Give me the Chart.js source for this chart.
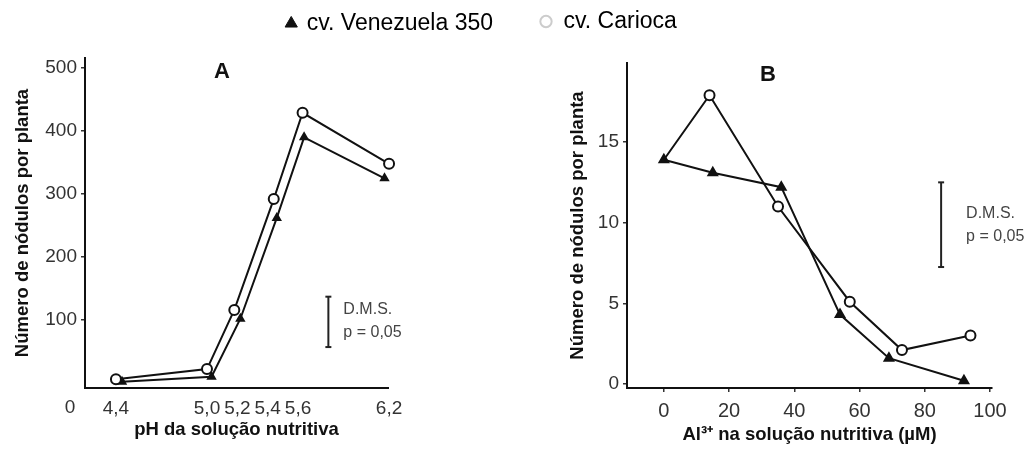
<!DOCTYPE html>
<html lang="pt">
<head>
<meta charset="utf-8">
<title>Nódulos por planta</title>
<script src="https://cdn.jsdelivr.net/npm/chart.js"></script>
<style>
  body { margin: 0; background: #fff; }
  #caixaA { position: absolute; left: 0; top: 0; width: 503px; height: 449px; }
  #caixaB { position: absolute; left: 530px; top: 0; width: 503px; height: 449px; }
</style>
</head>
<body>
<div id="caixaA"><canvas id="graficoA"></canvas></div>
<div id="caixaB"><canvas id="graficoB"></canvas></div>
<script>
// Painel A - pH da solução
var phCarioca = [4.40, 5.00, 5.18, 5.44, 5.63, 6.20];
var nodulosCariocaA = [6, 22, 116, 292, 429, 348];
var phVenezuela = [4.44, 5.03, 5.22, 5.46, 5.64, 6.17];
var nodulosVenezuelaA = [2, 10, 102, 262, 390, 325];
var phTicks = [4.4, 5.0, 5.2, 5.4, 5.6, 6.2];
var phTickLabels = ['4,4', '5,0', '5,2', '5,4', '5,6', '6,2'];
var nodTicksA = [100, 200, 300, 400, 500];
var dmsA = [5.8, 57, 137]; // x, base, topo

// Painel B - Al3+
var alCarioca = [0, 14, 35, 57, 73, 94];
var nodulosCariocaB = [13.9, 17.9, 11.0, 5.1, 2.1, 3.0];
var alVenezuela = [0, 15, 36, 54, 69, 92];
var nodulosVenezuelaB = [13.9, 13.1, 12.2, 4.3, 1.6, 0.2];
var alTicks = [0, 20, 40, 60, 80, 100];
var nodTicksB = [0, 5, 10, 15];
var dmsB = [85, 7.25, 12.5];

var fonte = 'Liberation Sans, Arial, sans-serif';
var preto = '#111';
var fonteTitulo = { family: fonte, size: 18.5, weight: 'bold' };

function pontos(xs, ys) {
  var lista = [];
  for (var i = 0; i < xs.length; i++) {
    lista.push({ x: xs[i], y: ys[i] });
  }
  return lista;
}

// textos soltos (letra do painel, D.M.S., "0")
var textos = {
  id: 'textos',
  afterDatasetsDraw: function (chart, args, opts) {
    var ctx = chart.ctx;
    ctx.save();
    (opts.itens || []).forEach(function (t) {
      var p = t.pos(chart);
      ctx.font = t.font;
      ctx.fillStyle = t.color || '#333';
      ctx.textAlign = t.align || 'left';
      ctx.textBaseline = 'middle';
      ctx.fillText(t.text, p[0], p[1]);
    });
    ctx.restore();
  }
};

function dmsPos(dms, dx, dy) {
  return function (chart) {
    return [chart.scales.x.getPixelForValue(dms[0]) + dx, chart.scales.y.getPixelForValue(dms[2]) + dy];
  };
}

function linha(dados, estilo, raio, fundo) {
  return {
    data: dados,
    borderColor: preto,
    borderWidth: 2,
    tension: 0,
    clip: false,
    pointStyle: estilo,
    pointRadius: raio,
    pointBorderWidth: 2,
    pointBorderColor: preto,
    pointBackgroundColor: fundo
  };
}

function barraDms(dms) {
  return {
    label: 'DMS',
    data: [{ x: dms[0], y: dms[1] }, { x: dms[0], y: dms[2] }],
    borderColor: '#222',
    borderWidth: 2,
    pointStyle: 'line',
    pointRadius: 3,
    pointBorderWidth: 2,
    pointBorderColor: '#222'
  };
}

function eixoY(ticks, largura, padTitulo) {
  return {
    type: 'linear',
    afterBuildTicks: function (s) { s.ticks = ticks.map(function (v) { return { value: v }; }); },
    afterFit: function (s) { s.width = largura; },
    border: { color: preto, width: 2 },
    grid: { drawOnChartArea: false, drawTicks: true, tickLength: 4, color: '#333', lineWidth: 1.5 },
    ticks: { color: '#333', padding: 4, font: { family: fonte, size: 19 } },
    title: {
      display: true,
      text: 'Número de nódulos por planta',
      color: preto,
      padding: { top: padTitulo, bottom: 0 },
      font: fonteTitulo
    }
  };
}

// eixo vazio, só para reservar espaço
function espaco(posicao, tamanho) {
  return {
    type: 'linear',
    position: posicao,
    display: true,
    grid: { display: false },
    border: { display: false },
    ticks: { display: false },
    afterFit: function (s) {
      if (posicao === 'top') s.height = tamanho; else s.width = tamanho;
    }
  };
}

var legendaBase = {
  usePointStyle: true,
  padding: 10,
  color: '#222',
  font: { family: fonte, size: 23 }
};

new Chart(document.getElementById('graficoA'), {
  type: 'line',
  data: {
    datasets: [
      Object.assign({ label: 'cv. Carioca' }, linha(pontos(phCarioca, nodulosCariocaA), 'circle', 5, '#fff')),
      Object.assign({ label: 'cv. Venezuela 350' }, linha(pontos(phVenezuela, nodulosVenezuelaA), 'triangle', 4, preto)),
      barraDms(dmsA)
    ]
  },
  options: {
    responsive: true,
    maintainAspectRatio: false,
    animation: false,
    layout: { padding: { left: 0, right: 0, top: 2, bottom: 4 } },
    scales: {
      x: {
        type: 'linear',
        min: 4.196,
        max: 6.193,
        afterBuildTicks: function (s) { s.ticks = phTicks.map(function (v) { return { value: v }; }); },
        afterFit: function (s) { s.height = 57; },
        border: { color: preto, width: 2 },
        grid: { display: false, drawTicks: false },
        ticks: {
          autoSkip: false, maxRotation: 0, minRotation: 0, padding: 9,
          color: '#333', font: { family: fonte, size: 19 },
          callback: function (v, i) { return phTickLabels[i]; }
        },
        title: {
          display: true,
          text: 'pH da solução nutritiva',
          color: preto,
          padding: { top: 0, bottom: 4 },
          font: fonteTitulo
        }
      },
      y: Object.assign(eixoY(nodTicksA, 85, 12), { min: -8, max: 516 }),
      topo: espaco('top', 13),
      direita: espaco('right', 115)
    },
    plugins: {
      tooltip: { enabled: false },
      legend: {
        position: 'top',
        align: 'end',
        labels: Object.assign({}, legendaBase, {
          boxWidth: 8,
          boxHeight: 10,
          generateLabels: function () {
            return [{ text: 'cv. Venezuela 350', pointStyle: 'triangle', fillStyle: preto, strokeStyle: preto, lineWidth: 1, hidden: false, datasetIndex: 1 }];
          }
        })
      },
      textos: {
        itens: [
          { text: 'A', font: 'bold 22px ' + fonte, color: preto, align: 'center', pos: function (c) { return [c.chartArea.left + 137, c.chartArea.top + 14]; } },
          { text: '0', font: '19px ' + fonte, align: 'center', pos: function (c) { return [c.chartArea.left - 15, c.chartArea.bottom + 20]; } },
          { text: 'D.M.S.', font: '16px ' + fonte, color: '#444', pos: dmsPos(dmsA, 15, 13) },
          { text: 'p = 0,05', font: '16px ' + fonte, color: '#444', pos: dmsPos(dmsA, 15, 36) }
        ]
      }
    }
  },
  plugins: [textos]
});

new Chart(document.getElementById('graficoB'), {
  type: 'line',
  data: {
    datasets: [
      Object.assign({ label: 'cv. Carioca' }, linha(pontos(alCarioca, nodulosCariocaB), 'circle', [0, 5, 5, 5, 5, 5], '#fff')),
      Object.assign({ label: 'cv. Venezuela 350' }, linha(pontos(alVenezuela, nodulosVenezuelaB), 'triangle', 5, preto)),
      barraDms(dmsB)
    ]
  },
  options: {
    responsive: true,
    maintainAspectRatio: false,
    animation: false,
    layout: { padding: { left: 0, right: 0, top: 0, bottom: 0 } },
    scales: {
      x: {
        type: 'linear',
        min: -11.3,
        max: 100.6,
        afterBuildTicks: function (s) { s.ticks = alTicks.map(function (v) { return { value: v }; }); },
        afterFit: function (s) { s.height = 61; },
        border: { color: preto, width: 2 },
        grid: { drawOnChartArea: false, drawTicks: true, tickLength: 4, color: '#333', lineWidth: 1.5 },
        ticks: {
          autoSkip: false, maxRotation: 0, minRotation: 0, padding: 7,
          color: '#333', font: { family: fonte, size: 20 }
        },
        title: {
          display: true,
          text: 'Al³⁺ na solução nutritiva (µM)',
          color: preto,
          padding: { top: 0, bottom: 3 },
          font: fonteTitulo
        }
      },
      y: Object.assign(eixoY(nodTicksB, 97, 37), { min: -0.25, max: 19.9 }),
      topo: espaco('top', 20),
      direita: espaco('right', 41)
    },
    plugins: {
      tooltip: { enabled: false },
      legend: {
        position: 'top',
        align: 'start',
        labels: Object.assign({}, legendaBase, {
          boxWidth: 12,
          boxHeight: 8,
          generateLabels: function () {
            return [{ text: 'cv. Carioca', pointStyle: 'circle', fillStyle: '#fff', strokeStyle: '#ccc', lineWidth: 2, hidden: false, datasetIndex: 0 }];
          }
        })
      },
      textos: {
        itens: [
          { text: 'B', font: 'bold 22px ' + fonte, color: preto, align: 'center', pos: function (c) { return [c.chartArea.left + 141, c.chartArea.top + 12]; } },
          { text: 'D.M.S.', font: '16px ' + fonte, color: '#444', pos: dmsPos(dmsB, 25, 31) },
          { text: 'p = 0,05', font: '16px ' + fonte, color: '#444', pos: dmsPos(dmsB, 25, 54) }
        ]
      }
    }
  },
  plugins: [textos]
});
</script>
</body>
</html>
